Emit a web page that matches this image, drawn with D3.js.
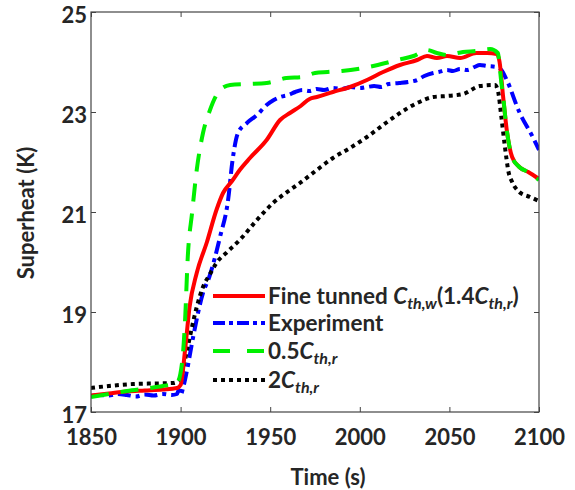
<!DOCTYPE html>
<html><head><meta charset="utf-8">
<script src="https://cdn.jsdelivr.net/npm/d3@7"></script>
<style>body{margin:0;background:#fff}svg{display:block}text{font-family:Lato,"Open Sans",sans-serif;font-weight:700;fill:#262626}</style>
</head><body>
<script>
const xTicks=[1850,1900,1950,2000,2050,2100];
const yTicks=[17,19,21,23,25];
const redT=[1850,1860,1870,1880,1890,1898,1900,1902.5,1905,1909,1914.7,1920,1923.7,1928.7,1933,1938.7,1948,1955.5,1961,1967,1972,1976,1985,1994.5,2004,2013,2022.4,2032,2037.5,2043,2048.7,2056,2065,2071,2076.5,2078,2080,2082,2085,2089,2094,2100];
const redV=[17.33,17.37,17.41,17.43,17.45,17.48,17.54,18.24,19.1,19.78,20.4,21.04,21.38,21.62,21.84,22.08,22.44,22.84,22.98,23.12,23.26,23.3,23.4,23.5,23.64,23.8,23.94,24.04,24.12,24.08,24.12,24.08,24.18,24.18,24.16,24.0,23.3,22.64,22.1,21.9,21.8,21.66];
const blueT=[1850,1855,1860,1865,1870,1875,1880,1885,1890,1895,1898,1899,1900,1901.5,1903.6,1907,1912.5,1916,1922,1926.5,1929,1932,1937,1942.6,1948,1952,1955.5,1960,1964,1968,1972,1976,1980,1985,1990,1995,2000,2004,2008,2012,2016,2022,2027,2032,2036,2041,2044,2048.7,2052,2056,2060,2064,2067,2071,2076.5,2079,2082,2089,2096.5,2100];
const blueV=[17.32,17.34,17.33,17.36,17.34,17.31,17.35,17.33,17.36,17.34,17.36,17.44,17.34,17.5,17.84,18.5,19.38,19.7,20.5,21.24,22.04,22.58,22.78,22.94,23.14,23.24,23.3,23.34,23.4,23.44,23.42,23.46,23.44,23.48,23.46,23.5,23.48,23.5,23.52,23.5,23.56,23.58,23.6,23.64,23.72,23.78,23.8,23.84,23.82,23.86,23.84,23.9,23.94,23.92,23.9,23.84,23.64,23.0,22.5,22.24];
const greenT=[1850,1860,1870,1883,1890,1898,1900.8,1902.5,1904,1906.4,1909,1912.5,1916.4,1922,1927.6,1937,1948,1953,1959,1968,1975,1982,1990,2002,2010,2021,2030,2037.5,2043,2048.7,2052,2057.6,2065,2072.7,2077,2079,2080,2082,2085,2089,2094,2100];
const greenV=[17.3,17.36,17.42,17.48,17.52,17.58,17.98,18.84,20.1,20.98,21.84,22.58,23.04,23.44,23.54,23.56,23.58,23.62,23.68,23.7,23.78,23.8,23.82,23.88,23.94,24.04,24.12,24.24,24.18,24.14,24.16,24.2,24.22,24.26,24.18,23.58,23.3,22.64,22.1,21.9,21.8,21.64];
const blackT=[1850,1860,1873.5,1885,1896,1898.5,1900,1903.6,1909,1912.5,1916.4,1920,1926,1933,1942.6,1951.6,1961,1966.6,1976,1985,1994.5,2004,2013,2022.4,2032,2041,2048.7,2057.6,2067,2075.4,2077,2079,2081,2083,2085,2089,2095,2100];
const blackV=[17.48,17.52,17.56,17.57,17.58,17.62,17.68,18.24,19.1,19.5,19.76,19.98,20.2,20.44,20.84,21.18,21.44,21.58,21.84,22.08,22.28,22.5,22.74,22.98,23.18,23.3,23.32,23.36,23.52,23.54,23.44,22.9,22.3,21.8,21.6,21.4,21.3,21.22];

const W=575,H=490,L=91,R=539,T=12,B=412;
const svg=d3.select("body").append("svg").attr("width",W).attr("height",H);
const x=d3.scaleLinear().domain([1850,2100]).range([L,R]);
const y=d3.scaleLinear().domain([17,25]).range([B,T]);

svg.append("defs").append("clipPath").attr("id","clip").append("rect").attr("x",L).attr("y",T).attr("width",R-L).attr("height",B-T);

const series=[
 {t:greenT,v:greenV,c:"#00f000",dash:"18,12"},
 {t:blackT,v:blackV,c:"#000",dash:"4,4"},
 {t:blueT,v:blueV,c:"#0000ff",dash:"13,5,4,5"},
 {t:redT,v:redV,c:"#ff0000",dash:null}
];
const line=d3.line().x(d=>x(d[0])).y(d=>y(d[1])).curve(d3.curveMonotoneX);
const g=svg.append("g").attr("clip-path","url(#clip)");
[series[2],series[1],series[3],series[0]].forEach(s=>{
  g.append("path").datum(s.t.map((t,i)=>[t,s.v[i]]))
   .attr("d",line).attr("fill","none").attr("stroke",s.c).attr("stroke-width",4)
   .attr("stroke-dasharray",s.dash).attr("stroke-linejoin","round");
});

svg.append("rect").attr("x",L).attr("y",T).attr("width",R-L).attr("height",B-T).attr("fill","none").attr("stroke","#444").attr("stroke-width",1.2);
const xb=svg.append("g").attr("transform",`translate(0,${B})`).call(d3.axisBottom(x).tickValues(xTicks).tickSize(-5).tickPadding(17).tickFormat(d3.format("d")));
const xt=svg.append("g").attr("transform",`translate(0,${T})`).call(d3.axisTop(x).tickValues(xTicks).tickSize(-5).tickFormat(""));
const yl=svg.append("g").attr("transform",`translate(${L},0)`).call(d3.axisLeft(y).tickValues(yTicks).tickSize(-5).tickPadding(4));
const yr=svg.append("g").attr("transform",`translate(${R},0)`).call(d3.axisRight(y).tickValues(yTicks).tickSize(-5).tickFormat(""));
[xb,xt,yl,yr].forEach(a=>{a.select(".domain").remove();a.selectAll("line").attr("stroke","#444");a.selectAll("text").style("font-size","22px").attr("fill","#262626");});
xb.selectAll("text").attr("dy","0.71em");
yl.selectAll("text").attr("y",3);

svg.append("text").attr("x",328).attr("y",485).attr("text-anchor","middle").style("font-size","22px").text("Time (s)");
svg.append("text").attr("transform","translate(34,213) rotate(-90)").attr("text-anchor","middle").style("font-size","22px").text("Superheat (K)");

const leg=[
 {c:"#ff0000",dash:null,parts:[["Fine tunned ",0],["C",1],["th,w",2],["(1.4",0],["C",1],["th,r",2],[")",0]]},
 {c:"#0000ff",dash:"12,4,4,4",parts:[["Experiment",0]]},
 {c:"#00f000",dash:"17,17",parts:[["0.5",0],["C",1],["th,r",2]]},
 {c:"#000",dash:"4,4",parts:[["2",0],["C",1],["th,r",2]]}
];
const rowsY=[296,323,351,380];
leg.forEach((d,i)=>{
  const yy=rowsY[i];
  svg.append("line").attr("x1",213).attr("x2",265).attr("y1",yy).attr("y2",yy).attr("stroke",d.c).attr("stroke-width",4).attr("stroke-dasharray",d.dash);
  const tx=svg.append("text").attr("x",268).attr("y",yy+8).style("font-size","22.5px");
  let prevSub=false;
  d.parts.forEach(p=>{
    const ts=tx.append("tspan").text(p[0]);
    if(p[1]>=1) ts.style("font-style","italic");
    if(p[1]===2){ts.style("font-size","16px").attr("dy",5);prevSub=true;}
    else if(prevSub){ts.attr("dy",-5);prevSub=false;}
  });
});
</script>
</body></html>
